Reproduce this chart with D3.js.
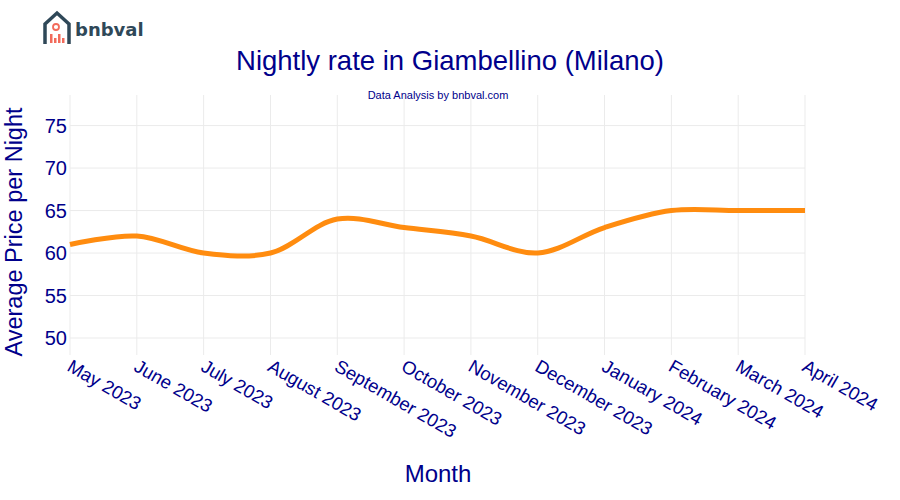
<!DOCTYPE html>
<html><head><meta charset="utf-8">
<script src="https://cdn.jsdelivr.net/npm/d3@7"></script>
<style>body{margin:0;background:#fff}</style></head>
<body><svg id="c" width="900" height="500"></svg>
<script>
const months=["May 2023","June 2023","July 2023","August 2023","September 2023","October 2023","November 2023","December 2023","January 2024","February 2024","March 2024","April 2024"];
const prices=[61,62,60,60,64,63,62,60,63,65,65,65];
const yTicks=[50,55,60,65,70,75];
const svg=d3.select("#c");
const m={l:70,r:95,t:95,b:145};
const W=900,H=500;
const x=d3.scalePoint().domain(months).range([m.l,W-m.r]);
const y=d3.scaleLinear().domain([48,78.6]).range([H-m.b,m.t]);
const ff="Arial, 'Liberation Sans', sans-serif", col="#00008b";
svg.append("g").selectAll("line").data(yTicks).join("line")
 .attr("x1",m.l).attr("x2",W-m.r).attr("y1",d=>y(d)).attr("y2",d=>y(d)).attr("stroke","#ebebeb");
svg.append("g").selectAll("line").data(months).join("line")
 .attr("x1",d=>x(d)).attr("x2",d=>x(d)).attr("y1",m.t).attr("y2",H-m.b).attr("stroke","#ebebeb");
svg.append("g").selectAll("text").data(yTicks).join("text")
 .attr("x",m.l-3).attr("y",d=>y(d)).attr("dy","0.35em").attr("text-anchor","end")
 .attr("font-family",ff).attr("font-size",20).attr("fill",col).text(d=>d);
svg.append("g").selectAll("text").data(months).join("text")
 .attr("transform",d=>`translate(${x(d)-4},${H-m.b+15}) rotate(30)`)
 .attr("font-family",ff).attr("font-size",18.5).attr("fill",col).text(d=>d);
svg.append("path").datum(prices.map((p,i)=>[x(months[i]),y(p)]))
 .attr("d",d3.line().curve(d3.curveCatmullRom.alpha(0.5))).attr("fill","none")
 .attr("stroke","#ff8c0f").attr("stroke-width",5);
svg.append("text").attr("x",450).attr("y",70).attr("text-anchor","middle").attr("font-family",ff).attr("font-size",27.5).attr("fill",col).text("Nightly rate in Giambellino (Milano)");
svg.append("text").attr("x",438).attr("y",99).attr("text-anchor","middle").attr("font-family",ff).attr("font-size",11).attr("fill",col).text("Data Analysis by bnbval.com");
svg.append("text").attr("x",438).attr("y",482).attr("text-anchor","middle").attr("font-family",ff).attr("font-size",24).attr("fill",col).text("Month");
svg.append("text").attr("transform","translate(22,232) rotate(-90)").attr("text-anchor","middle").attr("font-family",ff).attr("font-size",23.5).attr("fill",col).text("Average Price per Night");
const lg=svg.append("g");
lg.append("path").attr("d","M45,44 L45,24 L57,13 L69,24 L69,44").attr("fill","none").attr("stroke","#2f4858").attr("stroke-width",3.5);
lg.append("circle").attr("cx",56).attr("cy",27).attr("r",3).attr("fill","none").attr("stroke","#f26b5b").attr("stroke-width",1.8);
[[50,34],[54,38],[58,34],[62,38]].forEach(([bx,by])=>lg.append("rect").attr("x",bx).attr("y",by).attr("width",2.5).attr("height",43-by).attr("fill","#f26b5b"));
lg.append("text").attr("x",75).attr("y",36).attr("font-family","'DejaVu Sans',sans-serif").attr("font-weight","bold").attr("font-size",18).attr("fill","#2f4858").text("bnbval");
</script></body></html>
